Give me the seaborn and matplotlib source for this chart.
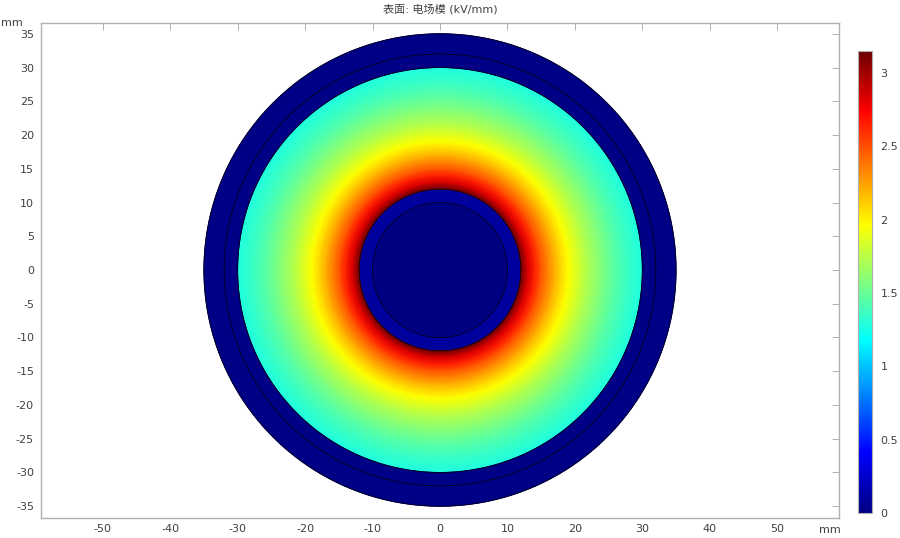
import numpy as np
import matplotlib
matplotlib.use('Agg')
import matplotlib.pyplot as plt
from matplotlib.colors import LinearSegmentedColormap
import seaborn as sns

title = '表面: 电场模 (kV/mm)'
unit = 'mm'

# field magnitude, kV/mm
insulation_r = [12, 13, 14, 15, 16, 17, 18, 19, 20, 21, 22, 23, 24, 25, 26, 27, 28, 29, 30]
insulation_e = [3.15, 2.85, 2.65, 2.48, 2.34, 2.21, 2.09, 1.98, 1.89, 1.80, 1.72, 1.65,
                1.58, 1.52, 1.46, 1.41, 1.36, 1.32, 1.28]
conductor_r = [0, 10]
conductor_e = [0.0, 0.0]
screen_r = [10, 12]
screen_e = [0.10, 0.10]
sheath_r = [30, 35]
sheath_e = [0.03, 0.03]
boundary_r = [10, 12, 30, 32, 35]

x_ticks = [-50, -40, -30, -20, -10, 0, 10, 20, 30, 40, 50]
y_ticks = [-35, -30, -25, -20, -15, -10, -5, 0, 5, 10, 15, 20, 25, 30, 35]
cbar_ticks = [0, 0.5, 1, 1.5, 2, 2.5, 3]
cbar_labels = ['0', '0.5', '1', '1.5', '2', '2.5', '3']
e_max = 3.15

GREY = '#b0b0b0'
TEXT = '#404040'

sns.set_theme(style='white')
plt.rcParams['font.family'] = ['DejaVu Sans', 'Noto Sans CJK SC']
plt.rcParams['axes.unicode_minus'] = False

# rainbow scale of the colour bar, stops
rainbow = LinearSegmentedColormap.from_list('rainbow_bar', [
    (0.0, (0, 0, 0.5)),
    (0.135, (0, 0, 1)),
    (0.378, (0, 1, 1)),
    (0.628, (1, 1, 0)),
    (0.875, (1, 0, 0)),
    (1.0, (0.45, 0, 0)),
])

theta = np.linspace(0, 2 * np.pi, 721)


def draw_ring(ax, radii, values):
    rr, tt = np.meshgrid(radii, theta)
    cc = np.tile(values, (len(theta), 1))
    return ax.pcolormesh(rr * np.cos(tt), rr * np.sin(tt), cc, cmap=rainbow, vmin=0, vmax=e_max,
                         shading='gouraud', rasterized=True)


fig = plt.figure(figsize=(9, 5.38), dpi=100)
ax = fig.add_axes([41 / 900, 20.5 / 538, 797.5 / 900, 495 / 538])

draw_ring(ax, conductor_r, conductor_e)
draw_ring(ax, screen_r, screen_e)
mesh = draw_ring(ax, insulation_r, insulation_e)
draw_ring(ax, sheath_r, sheath_e)

# domain boundaries
for r in boundary_r:
    sns.lineplot(x=r * np.cos(theta), y=r * np.sin(theta), sort=False, estimator=None,
                 color='black', linewidth=0.5, ax=ax)

ax.set_xlim(-59.15, 59.08)
ax.set_ylim(-36.67, 36.67)
ax.set_xticks(x_ticks)
ax.set_yticks(y_ticks)
ax.tick_params(direction='in', length=5, width=0.7, color=GREY, top=True, right=True,
               labelsize=8, labelcolor=TEXT, pad=5)
for spine in ax.spines.values():
    spine.set_color(GREY)
    spine.set_linewidth(1.0)

fig.text(440 / 900, 1 - 9 / 538, title, ha='center', va='center', fontsize=8, color=TEXT)
fig.text(0.5 / 900, 1 - 23 / 538, unit, ha='left', va='center', fontsize=8, color=TEXT)
fig.text(830 / 900, 1 - 530 / 538, unit, ha='center', va='center', fontsize=8, color=TEXT)

# colour bar
cax = fig.add_axes([858 / 900, 25 / 538, 14 / 900, 462 / 538])
cbar = fig.colorbar(mesh, cax=cax)
cbar.solids.set_edgecolor('face')
cbar.set_ticks(cbar_ticks)
cbar.set_ticklabels(cbar_labels)
cax.tick_params(direction='in', length=2.5, width=0.6, color='#202020', right=True, left=True,
                labelsize=8, labelcolor=TEXT, pad=6)
cbar.outline.set_edgecolor(GREY)
cbar.outline.set_linewidth(0.8)

fig.savefig('out.png', dpi=100)
